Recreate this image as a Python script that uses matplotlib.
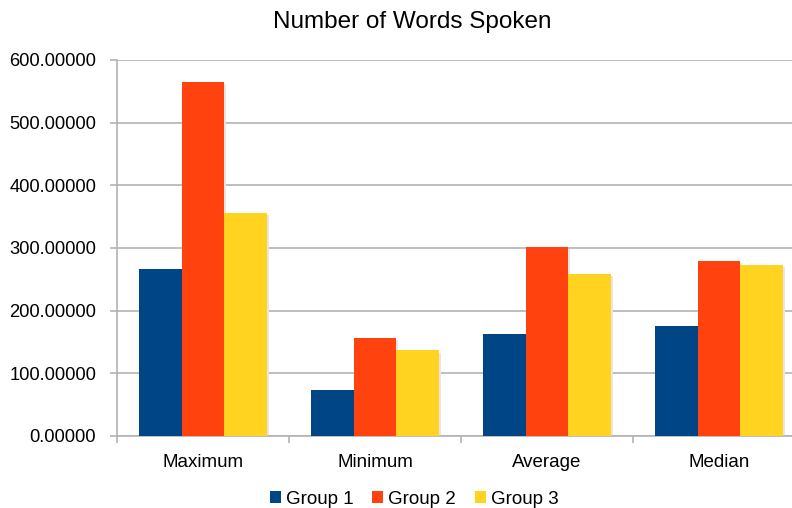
import numpy as np
import matplotlib.pyplot as plt
from matplotlib.ticker import FormatStrFormatter, FixedLocator

plt.rcParams['font.family'] = ['Liberation Sans', 'DejaVu Sans']

# data
categories = ["Maximum", "Minimum", "Average", "Median"]
group_names = ["Group 1", "Group 2", "Group 3"]
group1 = [266, 74, 162, 175]
group2 = [565, 157, 302, 280]
group3 = [356, 137, 259, 273]
colors = ["#004586", "#ff420e", "#ffd320"]

fig = plt.figure(figsize=(7.92, 5.08), dpi=100)
# axes run a bit past the right edge of the picture, as in the reference
ax = fig.add_axes([117 / 792, 72 / 508, 688 / 792, 376 / 508])

x = np.arange(len(categories))
width = 0.249
series = [group1, group2, group3]

for i, vals in enumerate(series):
    pos = x + (i - 1) * width
    # faint drop shadow
    ax.bar(pos + 0.012, vals, width, bottom=-4, color="#e6e6e6", zorder=2)
    ax.bar(pos, vals, width, color=colors[i], label=group_names[i], zorder=3)

ax.set_xlim(-0.5, len(categories) - 0.5)
ax.set_ylim(0, 600)
ax.set_yticks(np.arange(0, 601, 100))
ax.yaxis.set_major_formatter(FormatStrFormatter("%.5f"))
ax.yaxis.grid(True, color="#b3b3b3", linewidth=1.2, zorder=0)
ax.set_axisbelow(True)

ax.set_xticks(x)
ax.set_xticklabels(categories)
ax.xaxis.set_minor_locator(FixedLocator(np.arange(-0.5, len(categories), 1)))
ax.tick_params(axis="x", which="major", length=0, pad=13, labelsize=13.5)
ax.tick_params(axis="x", which="minor", length=5, color="#b3b3b3", width=1.2)
ax.tick_params(axis="y", length=5, color="#b3b3b3", width=1.2, pad=10, labelsize=13.2)

for side in ["top", "right"]:
    ax.spines[side].set_visible(False)
for side in ["left", "bottom"]:
    ax.spines[side].set_color("#b3b3b3")
    ax.spines[side].set_linewidth(1.2)

fig.text(412 / 792, 1 - 22 / 508, "Number of Words Spoken", ha="center", va="center",
         fontsize=17.5)

handles, labels = ax.get_legend_handles_labels()
fig.legend(handles, labels, loc="center", bbox_to_anchor=(414 / 792, 1 - 499 / 508),
           ncol=3, frameon=False, fontsize=13.5, handlelength=0.6, handleheight=0.6,
           handletextpad=0.25, columnspacing=1.0)

fig.savefig("out.png", dpi=100)
